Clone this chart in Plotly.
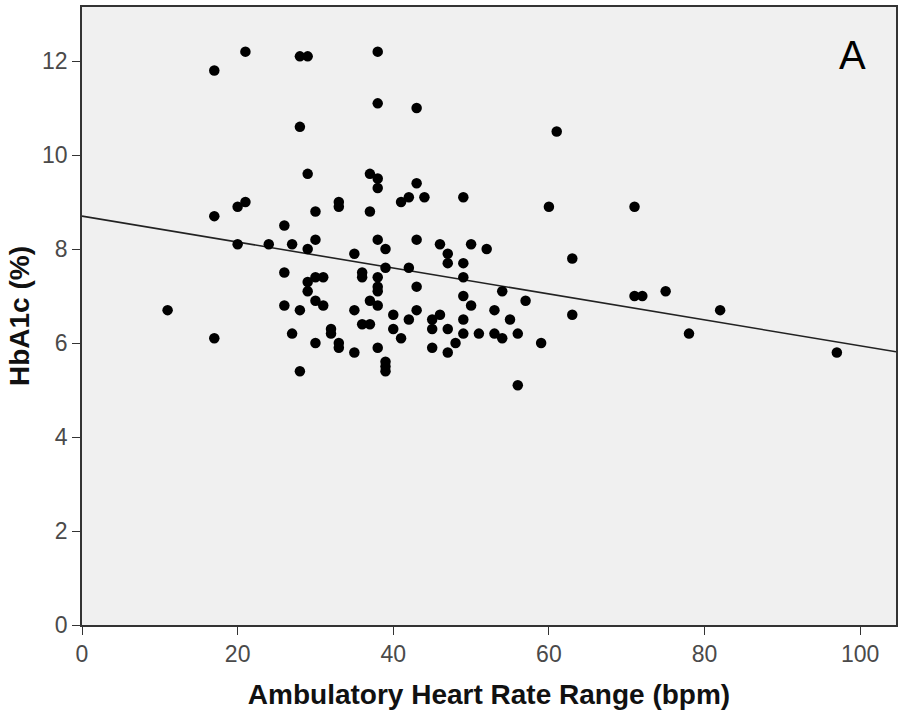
import plotly.graph_objects as go

# Ambulatory heart rate range (bpm) and HbA1c (%)
hr_range = [11,
            17, 17, 17,
            20, 20,
            21, 21,
            24,
            26, 26, 26,
            27, 27,
            28, 28, 28, 28,
            29, 29, 29, 29, 29,
            30, 30, 30, 30, 30,
            31, 31,
            32, 32,
            33, 33, 33, 33,
            35, 35, 35,
            36, 36, 36,
            37, 37, 37, 37,
            38, 38, 38, 38, 38, 38, 38, 38, 38, 38,
            39, 39, 39, 39, 39,
            40, 40,
            41, 41,
            42, 42, 42,
            43, 43, 43, 43, 43,
            44,
            45, 45, 45,
            46, 46,
            47, 47, 47, 47,
            48,
            49, 49, 49, 49, 49, 49,
            50, 50,
            51,
            52,
            53, 53,
            54, 54,
            55,
            56, 56,
            57,
            59,
            60,
            61,
            63, 63,
            71, 71,
            72,
            75,
            78,
            82,
            97]
hba1c = [6.7,
         11.8, 8.7, 6.1,
         8.9, 8.1,
         12.2, 9.0,
         8.1,
         8.5, 7.5, 6.8,
         8.1, 6.2,
         12.1, 10.6, 6.7, 5.4,
         12.1, 9.6, 8.0, 7.3, 7.1,
         8.8, 8.2, 7.4, 6.9, 6.0,
         7.4, 6.8,
         6.3, 6.2,
         9.0, 8.9, 6.0, 5.9,
         7.9, 6.7, 5.8,
         7.5, 7.4, 6.4,
         9.6, 8.8, 6.9, 6.4,
         12.2, 11.1, 9.5, 9.3, 8.2, 7.4, 7.2, 7.1, 6.8, 5.9,
         8.0, 7.6, 5.6, 5.5, 5.4,
         6.6, 6.3,
         9.0, 6.1,
         9.1, 7.6, 6.5,
         11.0, 9.4, 8.2, 7.2, 6.7,
         9.1,
         6.5, 6.3, 5.9,
         8.1, 6.6,
         7.9, 7.7, 6.3, 5.8,
         6.0,
         9.1, 7.7, 7.4, 7.0, 6.5, 6.2,
         8.1, 6.8,
         6.2,
         8.0,
         6.7, 6.2,
         7.1, 6.1,
         6.5,
         6.2, 5.1,
         6.9,
         6.0,
         8.9,
         10.5,
         7.8, 6.6,
         8.9, 7.0,
         7.0,
         7.1,
         6.2,
         6.7,
         5.8]

# Fit line
fit_intercept = 8.70
fit_slope = -0.0276
x_range = [0, 104.6]
y_range = [0, 13.15]
x_ticks = [0, 20, 40, 60, 80, 100]
y_ticks = [0, 2, 4, 6, 8, 10, 12]

fit_x = x_range
fit_y = [fit_intercept + fit_slope * v for v in fit_x]

fig = go.Figure()
fig.add_trace(go.Scatter(x=fit_x, y=fit_y, mode="lines",
                         line=dict(color="#222222", width=1.6),
                         hoverinfo="skip", showlegend=False))
fig.add_trace(go.Scatter(x=hr_range, y=hba1c, mode="markers",
                         marker=dict(color="#000000", size=10.5, line=dict(width=0)),
                         showlegend=False))

axis_common = dict(showgrid=False, zeroline=False, showline=True, linecolor="#333333",
                   linewidth=1.5, mirror=True, ticks="outside", ticklen=8, tickwidth=1.3,
                   tickcolor="#333333",
                   tickfont=dict(family="Liberation Sans, Arial", size=23, color="#4a4a4a"))

fig.update_layout(
    width=898, height=712,
    margin=dict(l=82, r=0, t=7, b=87),
    paper_bgcolor="white",
    plot_bgcolor="#f0f0f0",
    xaxis=dict(range=x_range, tickvals=x_ticks, **axis_common,
               title=dict(text="<b>Ambulatory Heart Rate Range (bpm)</b>", standoff=18,
                          font=dict(family="Liberation Sans, Arial", size=28, color="#111111"))),
    yaxis=dict(range=y_range, tickvals=y_ticks, **axis_common,
               title=dict(text="<b>HbA1c (%)</b>", standoff=4,
                          font=dict(family="Liberation Sans, Arial", size=28, color="#111111"))),
    annotations=[dict(text="A", xref="paper", yref="paper", x=0.947, y=0.923,
                      xanchor="center", yanchor="middle", showarrow=False,
                      font=dict(family="Liberation Sans, Arial", size=40, color="#000000"))],
)

fig.write_html("out.html")
